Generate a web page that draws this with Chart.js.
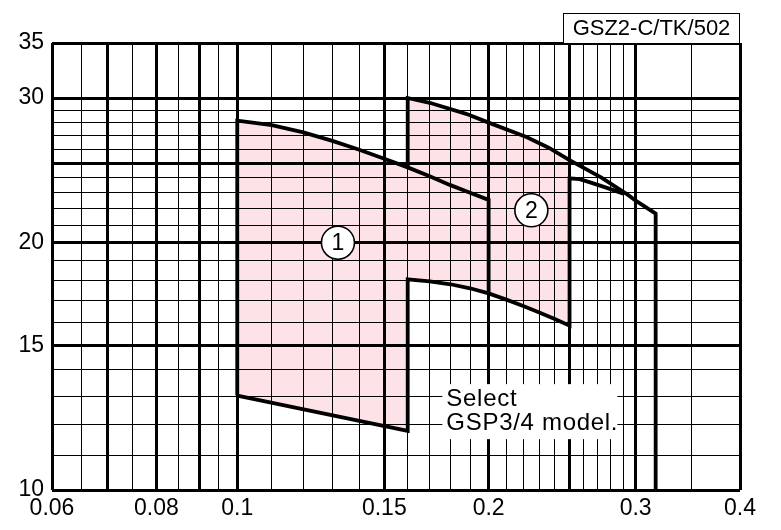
<!DOCTYPE html>
<html>
<head>
<meta charset="utf-8">
<script src="https://cdn.jsdelivr.net/npm/chart.js@4.4.1/dist/chart.umd.min.js"></script>
<style>
  html, body { margin: 0; padding: 0; background: #fff; }
  canvas { display: block; }
</style>
</head>
<body>
<canvas id="chart" width="781" height="530"></canvas>
<script>
// Grid lines and tick labels
const xGrid = [0.06, 0.065, 0.07, 0.075, 0.08, 0.085, 0.09, 0.095, 0.1, 0.11, 0.12, 0.13, 0.14, 0.15,
  0.16, 0.17, 0.18, 0.19, 0.2, 0.21, 0.22, 0.23, 0.24, 0.25, 0.26, 0.27, 0.28, 0.29, 0.3, 0.35, 0.4];
const xMajor = [0.06, 0.07, 0.08, 0.09, 0.1, 0.15, 0.2, 0.25, 0.3, 0.4];
const xLabels = [0.06, 0.08, 0.1, 0.15, 0.2, 0.3, 0.4];
const yGrid = [10, 11, 12, 13, 14, 15, 16, 17, 18, 19, 20, 21, 22, 23, 24, 25, 26, 27, 28, 29, 30, 35];
const yMajor = [10, 15, 20, 25, 30, 35];
const yLabels = [10, 15, 20, 30, 35];

// Curves
const top1X = [0.1, 0.11, 0.12, 0.13, 0.14, 0.15, 0.16, 0.17, 0.18, 0.19, 0.2];
const top1Y = [28.15, 27.8, 27.25, 26.6, 25.95, 25.3, 24.7, 24.1, 23.5, 23.0, 22.55];
const lowerX = [0.16, 0.17, 0.18, 0.19, 0.2, 0.21, 0.22, 0.23, 0.24, 0.25];
const lowerY = [18.05, 17.95, 17.8, 17.6, 17.35, 17.05, 16.75, 16.45, 16.15, 15.85];
const bottomX = [0.1, 0.16];
const bottomY = [13.03, 11.8];
const top2X = [0.16, 0.17, 0.188, 0.2, 0.222, 0.236, 0.25, 0.273, 0.294, 0.3, 0.317];
const top2Y = [30, 29.6, 28.7, 28.0, 26.9, 26.1, 25.2, 24.0, 22.85, 22.5, 21.7];
const innerX = [0.25, 0.257, 0.264, 0.276, 0.29];
const innerY = [23.95, 23.9, 23.7, 23.35, 22.95];
const edgeX = 0.317;

// Labels
const circleTexts = ['1', '2'];
const circleX = [0.132, 0.225];
const circleY = [20, 21.9];
const noteLines = ['Select', 'GSP3/4 model.'];
const noteX = 0.178;
const noteY = 12.9;
const title = 'GSZ2-C/TK/502';

const pink = '#fde2e8';
const font = 'Liberation Sans, Arial, Helvetica, sans-serif';

const pts = (xs, ys) => xs.map((x, i) => ({ x: x, y: ys[i] }));

const top1 = pts(top1X, top1Y);
const lower = pts(lowerX, lowerY);
const bottom1 = pts(bottomX, bottomY);
const top2 = pts(top2X, top2Y);
const inner = pts(innerX, innerY);
const top1At016 = top1.find(p => p.x === 0.16);
const lowerAt02 = lower.find(p => p.x === 0.2);

// Pink areas
const region1 = [bottom1[0], ...top1, ...lower.filter(p => p.x <= 0.2).reverse(), bottom1[1]];
const region2 = [top1At016, ...top2.filter(p => p.x <= 0.25), ...lower.slice().reverse()];

// Black outlines
const outlineA = [bottom1[0], ...top1, lowerAt02];
const outlineB = [...bottom1, ...lower, ...inner];
const outlineC = [top1At016, ...top2, { x: edgeX, y: 10 }];

const fillSet = (data) => ({
  data: data,
  order: 2,
  fill: 'shape',
  backgroundColor: pink,
  borderColor: 'rgba(0,0,0,0)',
  borderWidth: 1,
  pointRadius: 0,
  tension: 0
});

const lineSet = (data) => ({
  data: data,
  order: 1,
  fill: false,
  borderColor: '#000',
  borderWidth: 3.8,
  borderJoinStyle: 'miter',
  pointRadius: 0,
  tension: 0
});

// Circles, note and title box
const annotations = {
  id: 'annotations',
  afterDraw(chart) {
    const { ctx, chartArea } = chart;
    const x = chart.scales.x;
    const y = chart.scales.y;
    ctx.save();

    circleTexts.forEach((t, i) => {
      const cx = x.getPixelForValue(circleX[i]);
      const cy = y.getPixelForValue(circleY[i]);
      ctx.beginPath();
      ctx.arc(cx, cy, 16.5, 0, Math.PI * 2);
      ctx.fillStyle = '#fff';
      ctx.fill();
      ctx.lineWidth = 1.6;
      ctx.strokeStyle = '#000';
      ctx.stroke();
      ctx.fillStyle = '#000';
      ctx.font = '23px ' + font;
      ctx.textAlign = 'center';
      ctx.textBaseline = 'middle';
      ctx.fillText(t, cx, cy + 1);
    });

    const tx = x.getPixelForValue(noteX);
    const ty = y.getPixelForValue(noteY);
    ctx.font = '24px ' + font;
    ctx.letterSpacing = '0.7px';
    ctx.fillStyle = '#fff';
    ctx.fillRect(tx - 4, ty - 15, 175, 24 * (noteLines.length - 1) + 31);
    ctx.fillStyle = '#000';
    ctx.textAlign = 'left';
    ctx.textBaseline = 'middle';
    noteLines.forEach((line, i) => ctx.fillText(line, tx, ty + i * 24));

    const bw = 177, bh = 30;
    ctx.fillStyle = '#fff';
    ctx.fillRect(chartArea.right - bw, chartArea.top - bh, bw, bh);
    ctx.lineWidth = 1;
    ctx.strokeStyle = '#000';
    ctx.strokeRect(chartArea.right - bw + 0.5, chartArea.top - bh + 0.5, bw - 1, bh);
    ctx.fillStyle = '#000';
    ctx.font = '22px ' + font;
    ctx.letterSpacing = '0px';
    ctx.textAlign = 'center';
    ctx.fillText(title, chartArea.right - bw / 2, chartArea.top - bh / 2 + 1);

    ctx.restore();
  }
};

Chart.defaults.font.family = font;

new Chart(document.getElementById('chart'), {
  type: 'line',
  data: {
    datasets: [
      fillSet(region1),
      fillSet(region2),
      lineSet(outlineA),
      lineSet(outlineB),
      lineSet(outlineC)
    ]
  },
  options: {
    responsive: false,
    animation: false,
    devicePixelRatio: 1,
    layout: { padding: { top: 43, right: 41, left: 0, bottom: 0 } },
    plugins: {
      legend: { display: false },
      tooltip: { enabled: false }
    },
    scales: {
      x: {
        type: 'logarithmic',
        min: 0.06,
        max: 0.4,
        afterBuildTicks: s => { s.ticks = xGrid.map(v => ({ value: v })); },
        afterFit: s => { s.height = 40; },
        ticks: {
          autoSkip: false,
          maxRotation: 0,
          padding: 5,
          color: '#000',
          font: { size: 23 },
          callback: v => xLabels.includes(v) ? String(v) : ''
        },
        grid: {
          z: 1,
          drawTicks: false,
          color: '#000',
          lineWidth: c => xMajor.includes(c.tick && c.tick.value) ? 3 : 1
        },
        border: { display: false }
      },
      y: {
        type: 'logarithmic',
        min: 10,
        max: 35,
        afterBuildTicks: s => { s.ticks = yGrid.map(v => ({ value: v })); },
        afterFit: s => { s.width = 52; },
        ticks: {
          autoSkip: false,
          padding: 8,
          color: '#000',
          font: { size: 23 },
          callback: v => yLabels.includes(v) ? String(v) : ''
        },
        grid: {
          z: 1,
          drawTicks: false,
          color: '#000',
          lineWidth: c => yMajor.includes(c.tick && c.tick.value) ? 3 : 1
        },
        border: { display: false }
      }
    }
  },
  plugins: [annotations]
});
</script>
</body>
</html>
